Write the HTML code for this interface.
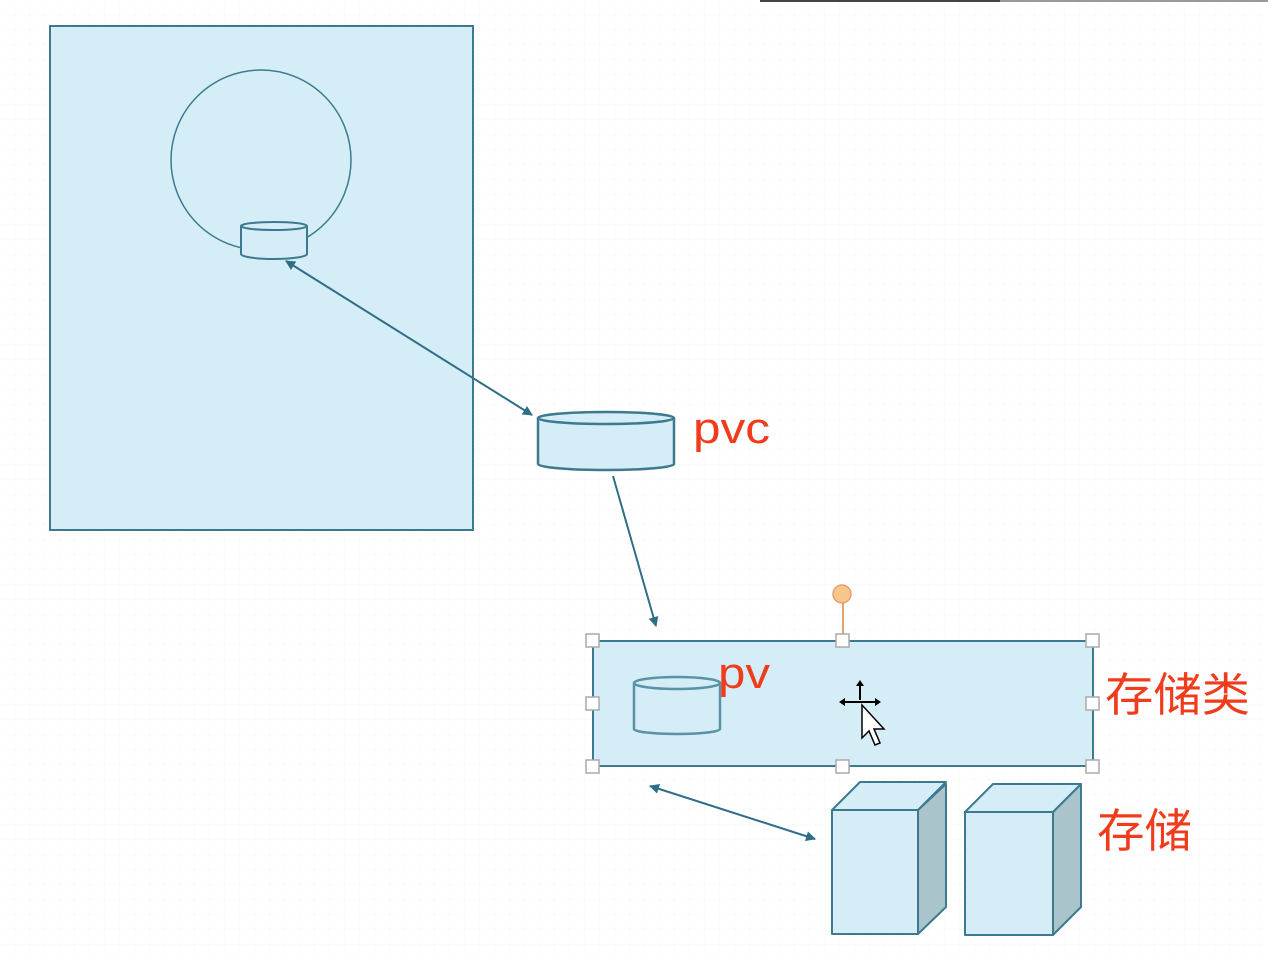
<!DOCTYPE html>
<html><head><meta charset="utf-8"><style>
html,body{margin:0;padding:0;background:#fff;}
svg{display:block}
text{font-family:"Liberation Sans","Noto Sans CJK SC",sans-serif;}
</style></head><body>
<svg width="1268" height="954" viewBox="0 0 1268 954" xmlns="http://www.w3.org/2000/svg">
<defs>
<pattern id="g" width="15" height="15" patternUnits="userSpaceOnUse">
<path d="M15 0V15M0 15H15" stroke="#eef1f3" stroke-width="1" stroke-dasharray="2 2"/>
</pattern>
<marker id="a" viewBox="0 0 10 10" refX="9" refY="5" markerWidth="5" markerHeight="5" orient="auto-start-reverse">
<path d="M0 0L10 5L0 10z" fill="#2f6f86"/>
</marker>
</defs>
<rect width="1268" height="954" fill="url(#g)"/>
<rect x="760" y="0" width="240" height="2" fill="#444"/>
<rect x="1000" y="0" width="268" height="2" fill="#999"/>
<rect x="50" y="26" width="423" height="504" fill="#d4edf7" stroke="#3d7a8f" stroke-width="2"/>
<circle cx="261" cy="160" r="90" fill="none" stroke="#3d7a8f" stroke-width="1.5"/>
<path d="M241 226V254A33 5 0 0 0 307 254V226" fill="#d4edf7" stroke="#3d7a8f" stroke-width="2"/>
<ellipse cx="274" cy="226" rx="33" ry="4" fill="#d4edf7" stroke="#3d7a8f" stroke-width="2"/>
<line x1="286" y1="261" x2="532" y2="415" stroke="#2f6f86" stroke-width="2" marker-start="url(#a)" marker-end="url(#a)"/>
<path d="M538 418V464A68 6 0 0 0 674 464V418" fill="#d4edf7" stroke="#3d7a8f" stroke-width="2.5"/>
<ellipse cx="606" cy="418" rx="68" ry="6" fill="#d4edf7" stroke="#3d7a8f" stroke-width="2.5"/>
<text x="693" y="443" font-size="44" fill="#f03c1c" textLength="77" lengthAdjust="spacingAndGlyphs">pvc</text>
<line x1="613" y1="476" x2="656" y2="626" stroke="#2f6f86" stroke-width="2" marker-end="url(#a)"/>
<rect x="593" y="641" width="500" height="125" fill="#d4edf7" stroke="#3d7a8f" stroke-width="2"/>
<line x1="843" y1="600" x2="843" y2="641" stroke="#e8a070" stroke-width="2"/>
<circle cx="842" cy="594" r="9" fill="#f7c68a" stroke="#e8a070" stroke-width="1.5"/>
<g fill="#fff" stroke="#aaa" stroke-width="1.5">
<rect x="586" y="634" width="13" height="13"/><rect x="836" y="634" width="13" height="13"/><rect x="1086" y="634" width="13" height="13"/>
<rect x="586" y="697" width="13" height="13"/><rect x="1086" y="697" width="13" height="13"/>
<rect x="586" y="760" width="13" height="13"/><rect x="836" y="760" width="13" height="13"/><rect x="1086" y="760" width="13" height="13"/>
</g>
<path d="M634 683V729A43 5 0 0 0 720 729V683" fill="#d4edf7" stroke="#5a93a6" stroke-width="2.5"/>
<ellipse cx="677" cy="683" rx="43" ry="6" fill="#d4edf7" stroke="#5a93a6" stroke-width="2.5"/>
<text x="718" y="688" font-size="44" fill="#f03c1c" textLength="52" lengthAdjust="spacingAndGlyphs">pv</text>
<path d="M862 705L862 738L869 731L875 745L880 743L874 729L884 729Z" fill="#fff" stroke="#000" stroke-width="1.5"/>
<path d="M841 702H879M860 683V700" stroke="#000" stroke-width="2"/>
<path d="M839 702l6-4v8zM881 702l-6-4v8zM860 680l-4 6h8z" fill="#000"/>
<text x="1105" y="711" font-size="46" fill="#f03c1c" textLength="145" lengthAdjust="spacingAndGlyphs">存储类</text>
<line x1="650" y1="786" x2="815" y2="839" stroke="#2f6f86" stroke-width="2" marker-start="url(#a)" marker-end="url(#a)"/>
<g stroke="#3d7a8f" stroke-width="2" stroke-linejoin="round">
<path d="M918 810L946 784V907L918 934Z" fill="#a9c4cb"/>
<path d="M832 810L860 782H946L918 810Z" fill="#d4edf7"/>
<rect x="832" y="810" width="86" height="124" fill="#d4edf7"/>
<path d="M1053 812L1081 784V907L1053 935Z" fill="#a9c4cb"/>
<path d="M965 812L993 784H1081L1053 812Z" fill="#d4edf7"/>
<rect x="965" y="812" width="88" height="123" fill="#d4edf7"/>
</g>
<text x="1097" y="847" font-size="46" fill="#f03c1c" textLength="95" lengthAdjust="spacingAndGlyphs">存储</text>
</svg>
</body></html>
